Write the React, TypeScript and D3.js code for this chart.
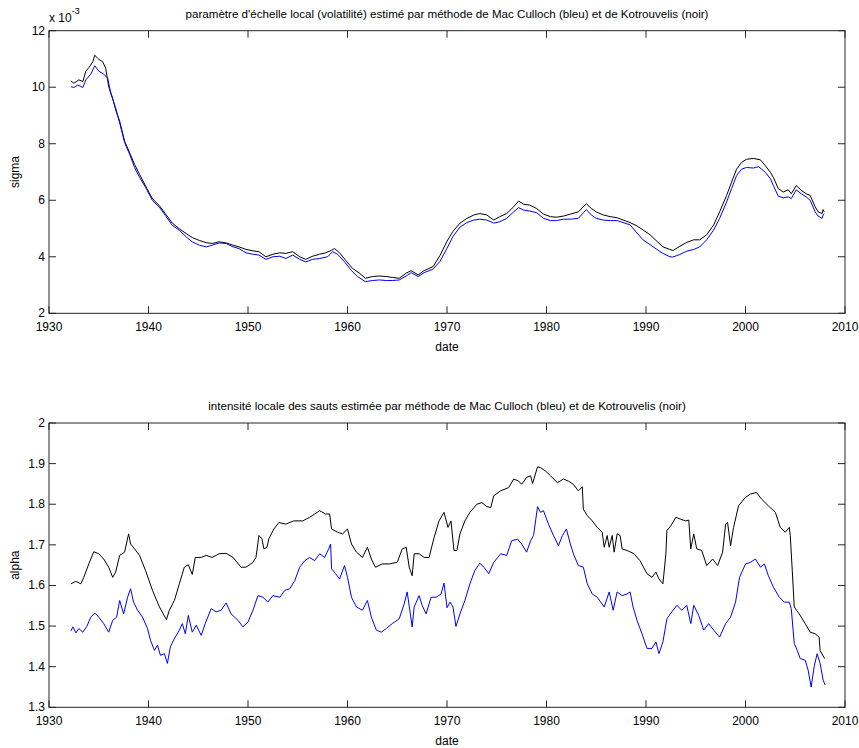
import React from "react";
import * as d3 from "d3";

// ---------- data ----------
const years = [1930, 1940, 1950, 1960, 1970, 1980, 1990, 2000, 2010];
const sigmaTicks = [2, 4, 6, 8, 10, 12];
const alphaTicks = [1.3, 1.4, 1.5, 1.6, 1.7, 1.8, 1.9, 2.0];

const topTitle =
  "paramètre d'échelle local (volatilité) estimé par méthode de Mac Culloch (bleu) et de Kotrouvelis (noir)";
const bottomTitle =
  "intensité locale des sauts estimée par méthode de Mac Culloch (bleu) et de Kotrouvelis (noir)";

// sigma (x 1e-3), Kotrouvelis (black)
const sigmaBlack: [number, number][] = [
  [1932.2, 10.22], [1932.5, 10.14], [1933.0, 10.26], [1933.4, 10.2], [1933.7, 10.57], [1934.0, 10.69],
  [1934.4, 10.9], [1934.6, 11.13], [1935.0, 10.99], [1935.4, 10.9], [1935.7, 10.67], [1936.0, 10.02],
  [1936.4, 9.61], [1936.7, 9.2], [1937.1, 8.8], [1937.6, 8.09], [1938.1, 7.68], [1938.6, 7.27],
  [1939.1, 6.92], [1939.7, 6.51], [1940.4, 6.05], [1941.1, 5.81], [1941.7, 5.52], [1942.4, 5.19],
  [1943.1, 4.99], [1943.8, 4.82], [1944.4, 4.68], [1945.1, 4.58], [1945.8, 4.5], [1946.4, 4.47],
  [1947.1, 4.53], [1947.8, 4.49], [1948.5, 4.41], [1949.1, 4.35], [1949.8, 4.26], [1950.5, 4.21],
  [1951.1, 4.18], [1951.8, 4.0], [1952.5, 4.09], [1953.2, 4.14], [1953.8, 4.12], [1954.5, 4.18],
  [1955.2, 4.0], [1955.8, 3.91], [1956.5, 4.02], [1957.2, 4.09], [1957.8, 4.14], [1958.4, 4.23],
  [1958.7, 4.29], [1959.2, 4.14], [1959.8, 3.88], [1960.5, 3.59], [1961.2, 3.42], [1961.8, 3.24],
  [1962.5, 3.3], [1963.2, 3.32], [1963.9, 3.3], [1964.5, 3.27], [1965.2, 3.24], [1965.9, 3.42],
  [1966.4, 3.51], [1967.1, 3.36], [1967.7, 3.51], [1968.6, 3.65], [1969.3, 4.05], [1970.0, 4.55],
  [1970.6, 4.9], [1971.3, 5.19], [1972.0, 5.36], [1972.7, 5.48], [1973.3, 5.53], [1974.0, 5.48],
  [1974.7, 5.3], [1975.3, 5.42], [1976.0, 5.53], [1976.7, 5.77], [1977.2, 5.97], [1977.7, 5.86],
  [1978.3, 5.83], [1979.0, 5.71], [1979.7, 5.51], [1980.4, 5.42], [1981.0, 5.4], [1981.7, 5.44],
  [1982.4, 5.51], [1983.2, 5.59], [1983.7, 5.77], [1984.0, 5.88], [1984.5, 5.71], [1985.0, 5.59],
  [1985.7, 5.48], [1986.4, 5.42], [1987.1, 5.38], [1987.7, 5.3], [1988.4, 5.21], [1989.1, 5.09],
  [1989.7, 4.95], [1990.4, 4.78], [1991.1, 4.55], [1991.7, 4.35], [1992.4, 4.26], [1992.7, 4.22],
  [1993.4, 4.37], [1994.1, 4.51], [1994.8, 4.6], [1995.4, 4.6], [1996.1, 4.78], [1996.8, 5.13],
  [1997.4, 5.59], [1998.1, 6.17], [1998.6, 6.64], [1999.1, 7.1], [1999.6, 7.34], [2000.1, 7.45],
  [2000.8, 7.48], [2001.5, 7.43], [2002.0, 7.22], [2002.5, 6.99], [2002.8, 6.81], [2003.3, 6.41],
  [2003.8, 6.29], [2004.3, 6.37], [2004.6, 6.23], [2005.1, 6.52], [2005.6, 6.35], [2006.1, 6.23],
  [2006.5, 6.17], [2007.0, 5.77], [2007.3, 5.59], [2007.7, 5.53], [2007.8, 5.67], [2007.9, 5.59],
];

// sigma (x 1e-3), Mac Culloch (blue)
const sigmaBlue: [number, number][] = [
  [1932.2, 10.02], [1932.5, 9.99], [1932.9, 10.08], [1933.4, 9.99], [1933.7, 10.26], [1934.2, 10.46],
  [1934.6, 10.76], [1935.0, 10.57], [1935.5, 10.46], [1935.9, 10.32], [1936.2, 9.79], [1936.7, 9.26],
  [1937.1, 8.74], [1937.6, 8.04], [1938.1, 7.63], [1938.6, 7.16], [1939.1, 6.81], [1939.7, 6.46],
  [1940.4, 5.99], [1941.1, 5.75], [1941.7, 5.46], [1942.4, 5.11], [1943.1, 4.94], [1943.8, 4.7],
  [1944.4, 4.53], [1945.1, 4.41], [1945.8, 4.35], [1946.4, 4.41], [1947.1, 4.49], [1947.8, 4.47],
  [1948.5, 4.35], [1949.1, 4.29], [1949.8, 4.14], [1950.5, 4.09], [1951.1, 4.06], [1951.8, 3.91],
  [1952.5, 4.0], [1953.2, 4.02], [1953.8, 3.94], [1954.5, 4.06], [1955.2, 3.91], [1955.8, 3.82],
  [1956.5, 3.91], [1957.2, 3.94], [1958.0, 4.0], [1958.5, 4.18], [1959.0, 4.09], [1959.7, 3.82],
  [1960.4, 3.51], [1961.0, 3.3], [1961.8, 3.12], [1962.5, 3.16], [1963.2, 3.18], [1963.9, 3.16],
  [1964.5, 3.16], [1965.2, 3.18], [1965.9, 3.32], [1966.4, 3.44], [1967.1, 3.3], [1967.7, 3.44],
  [1968.6, 3.56], [1969.3, 3.84], [1970.0, 4.3], [1970.6, 4.72], [1971.3, 5.05], [1972.0, 5.21],
  [1972.7, 5.3], [1973.3, 5.33], [1974.0, 5.3], [1974.7, 5.19], [1975.3, 5.24], [1976.0, 5.36],
  [1976.7, 5.59], [1977.2, 5.74], [1977.7, 5.65], [1978.3, 5.62], [1979.0, 5.56], [1979.7, 5.36],
  [1980.4, 5.28], [1981.0, 5.28], [1981.7, 5.33], [1982.4, 5.33], [1983.2, 5.36], [1983.7, 5.56],
  [1984.0, 5.67], [1984.5, 5.48], [1985.0, 5.36], [1985.7, 5.3], [1986.4, 5.28], [1987.1, 5.28],
  [1987.7, 5.21], [1988.4, 5.13], [1989.1, 4.84], [1989.7, 4.6], [1990.4, 4.43], [1991.1, 4.26],
  [1991.7, 4.12], [1992.4, 4.0], [1992.7, 3.99], [1993.4, 4.08], [1994.1, 4.2], [1994.8, 4.26],
  [1995.4, 4.35], [1996.1, 4.6], [1996.8, 4.95], [1997.4, 5.36], [1998.1, 5.94], [1998.6, 6.41],
  [1999.1, 6.87], [1999.6, 7.1], [2000.1, 7.16], [2000.8, 7.14], [2001.3, 7.19], [2002.0, 6.99],
  [2002.5, 6.76], [2002.8, 6.52], [2003.3, 6.14], [2003.8, 6.09], [2004.3, 6.12], [2004.6, 6.06],
  [2005.1, 6.37], [2005.6, 6.23], [2006.1, 6.12], [2006.5, 6.0], [2007.0, 5.59], [2007.3, 5.44],
  [2007.7, 5.36], [2007.8, 5.48], [2007.9, 5.53],
];

// alpha, Kotrouvelis (black)
const alphaBlack: [number, number][] = [
  [1932.2, 1.604], [1932.7, 1.61], [1933.2, 1.604], [1933.5, 1.62], [1934.0, 1.653], [1934.5, 1.683],
  [1935.0, 1.678], [1935.5, 1.665], [1936.0, 1.645], [1936.4, 1.62], [1936.7, 1.633], [1937.1, 1.674],
  [1937.6, 1.682], [1938.0, 1.727], [1938.2, 1.702], [1938.6, 1.69], [1939.1, 1.674], [1939.7, 1.637],
  [1940.4, 1.588], [1941.1, 1.547], [1941.8, 1.516], [1942.1, 1.539], [1942.6, 1.563], [1943.1, 1.604],
  [1943.6, 1.645], [1944.0, 1.651], [1944.4, 1.627], [1944.7, 1.669], [1945.3, 1.669], [1945.8, 1.674],
  [1946.4, 1.669], [1947.1, 1.678], [1947.8, 1.679], [1948.5, 1.669], [1949.3, 1.645], [1949.8, 1.645],
  [1950.5, 1.657], [1950.8, 1.669], [1951.1, 1.723], [1951.4, 1.715], [1951.6, 1.69], [1951.9, 1.694],
  [1952.1, 1.715], [1952.6, 1.739], [1953.1, 1.755], [1953.8, 1.751], [1954.6, 1.759], [1955.5, 1.759],
  [1956.2, 1.768], [1956.7, 1.776], [1957.2, 1.784], [1957.8, 1.776], [1958.2, 1.776], [1958.4, 1.739],
  [1959.0, 1.731], [1959.5, 1.727], [1960.0, 1.739], [1960.4, 1.702], [1960.9, 1.682], [1961.5, 1.669],
  [1962.0, 1.694], [1962.4, 1.665], [1962.8, 1.645], [1963.5, 1.653], [1964.2, 1.653], [1965.0, 1.657],
  [1965.5, 1.69], [1965.9, 1.694], [1966.2, 1.645], [1966.5, 1.624], [1966.7, 1.678], [1967.2, 1.678],
  [1967.7, 1.669], [1968.2, 1.669], [1968.7, 1.718], [1969.2, 1.759], [1969.7, 1.78], [1970.1, 1.743],
  [1970.4, 1.759], [1970.7, 1.686], [1971.0, 1.686], [1971.3, 1.727], [1971.8, 1.759], [1972.3, 1.78],
  [1973.0, 1.8], [1973.5, 1.804], [1974.0, 1.794], [1974.4, 1.792], [1974.7, 1.821], [1975.4, 1.833],
  [1976.2, 1.841], [1976.7, 1.862], [1977.2, 1.857], [1977.5, 1.849], [1978.0, 1.866], [1978.4, 1.87],
  [1978.6, 1.851], [1979.1, 1.892], [1979.4, 1.89], [1979.9, 1.882], [1980.4, 1.87], [1981.1, 1.853],
  [1981.7, 1.862], [1982.2, 1.857], [1982.7, 1.849], [1983.2, 1.833], [1983.6, 1.843], [1983.7, 1.788],
  [1984.1, 1.772], [1984.6, 1.759], [1985.1, 1.743], [1985.6, 1.731], [1985.8, 1.694], [1986.1, 1.723],
  [1986.3, 1.694], [1986.6, 1.723], [1986.8, 1.682], [1987.1, 1.727], [1987.4, 1.723], [1987.6, 1.69],
  [1988.1, 1.686], [1988.8, 1.678], [1989.4, 1.661], [1990.1, 1.629], [1990.6, 1.62], [1991.0, 1.633],
  [1991.3, 1.616], [1991.7, 1.604], [1992.0, 1.678], [1992.1, 1.735], [1992.5, 1.747], [1993.0, 1.768],
  [1993.5, 1.763], [1994.0, 1.759], [1994.3, 1.761], [1994.5, 1.69], [1994.8, 1.727], [1995.1, 1.69],
  [1995.6, 1.686], [1996.1, 1.649], [1996.7, 1.665], [1997.2, 1.649], [1997.7, 1.682], [1998.0, 1.751],
  [1998.2, 1.755], [1998.5, 1.698], [1998.8, 1.743], [1999.3, 1.796], [2000.0, 1.817], [2000.5, 1.825],
  [2001.1, 1.829], [2001.6, 1.813], [2002.3, 1.796], [2003.0, 1.78], [2003.5, 1.743], [2004.0, 1.731],
  [2004.4, 1.743], [2004.5, 1.723], [2004.7, 1.637], [2004.9, 1.547], [2005.4, 1.53], [2006.0, 1.506],
  [2006.5, 1.485], [2007.0, 1.481], [2007.4, 1.473], [2007.5, 1.44], [2007.9, 1.422], [2008.0, 1.42],
];

// alpha, Mac Culloch (blue)
const alphaBlue: [number, number][] = [
  [1932.2, 1.488], [1932.4, 1.498], [1932.7, 1.483], [1933.0, 1.494], [1933.4, 1.485], [1933.8, 1.499],
  [1934.2, 1.522], [1934.6, 1.532], [1935.0, 1.522], [1935.5, 1.506], [1936.0, 1.485], [1936.4, 1.514],
  [1936.8, 1.522], [1937.1, 1.563], [1937.5, 1.53], [1937.9, 1.571], [1938.2, 1.592], [1938.5, 1.559],
  [1938.9, 1.539], [1939.4, 1.522], [1939.9, 1.494], [1940.2, 1.465], [1940.6, 1.44], [1940.9, 1.453],
  [1941.2, 1.428], [1941.6, 1.432], [1941.9, 1.408], [1942.2, 1.449], [1942.6, 1.469], [1943.1, 1.49],
  [1943.4, 1.506], [1943.7, 1.481], [1944.0, 1.526], [1944.4, 1.485], [1944.8, 1.502], [1945.3, 1.477],
  [1945.7, 1.506], [1946.3, 1.543], [1946.8, 1.535], [1947.3, 1.539], [1947.8, 1.557], [1948.3, 1.53],
  [1949.0, 1.514], [1949.5, 1.498], [1950.0, 1.51], [1950.5, 1.539], [1951.0, 1.575], [1951.5, 1.571],
  [1952.0, 1.559], [1952.5, 1.575], [1953.2, 1.571], [1953.7, 1.588], [1954.2, 1.592], [1954.7, 1.612],
  [1955.2, 1.645], [1955.7, 1.661], [1956.2, 1.669], [1956.7, 1.661], [1957.2, 1.678], [1957.7, 1.669],
  [1958.1, 1.69], [1958.3, 1.702], [1958.4, 1.641], [1958.8, 1.629], [1959.2, 1.616], [1959.7, 1.649],
  [1960.0, 1.62], [1960.4, 1.571], [1960.9, 1.547], [1961.5, 1.539], [1962.0, 1.563], [1962.4, 1.522],
  [1962.9, 1.49], [1963.4, 1.485], [1963.9, 1.494], [1964.5, 1.506], [1965.2, 1.518], [1965.7, 1.555],
  [1966.0, 1.584], [1966.5, 1.498], [1966.7, 1.547], [1967.2, 1.575], [1967.5, 1.551], [1967.9, 1.53],
  [1968.4, 1.571], [1968.9, 1.571], [1969.4, 1.579], [1969.7, 1.606], [1970.0, 1.545], [1970.3, 1.559],
  [1970.6, 1.547], [1970.9, 1.499], [1971.3, 1.53], [1971.8, 1.563], [1972.3, 1.604], [1972.8, 1.637],
  [1973.3, 1.655], [1973.7, 1.645], [1974.2, 1.629], [1974.7, 1.657], [1975.4, 1.678], [1976.0, 1.674],
  [1976.5, 1.71], [1977.1, 1.714], [1977.5, 1.702], [1978.0, 1.682], [1978.4, 1.71], [1978.7, 1.723],
  [1979.1, 1.794], [1979.4, 1.78], [1979.7, 1.784], [1980.2, 1.751], [1980.7, 1.723], [1981.2, 1.698],
  [1981.6, 1.723], [1982.0, 1.739], [1982.4, 1.702], [1982.7, 1.678], [1983.2, 1.649], [1983.7, 1.645],
  [1984.1, 1.604], [1984.6, 1.579], [1985.1, 1.571], [1985.8, 1.547], [1986.3, 1.584], [1986.7, 1.539],
  [1987.1, 1.584], [1987.6, 1.575], [1988.1, 1.579], [1988.4, 1.584], [1988.7, 1.547], [1989.1, 1.514],
  [1989.6, 1.481], [1990.1, 1.445], [1990.6, 1.445], [1991.0, 1.461], [1991.3, 1.432], [1991.7, 1.461],
  [1992.1, 1.518], [1992.6, 1.535], [1993.1, 1.551], [1993.6, 1.539], [1994.1, 1.551], [1994.5, 1.506],
  [1994.8, 1.551], [1995.3, 1.526], [1995.8, 1.49], [1996.3, 1.506], [1996.8, 1.49], [1997.4, 1.473],
  [1998.0, 1.506], [1998.5, 1.522], [1999.0, 1.559], [1999.4, 1.62], [2000.0, 1.653], [2000.5, 1.657],
  [2001.0, 1.665], [2001.5, 1.645], [2001.9, 1.653], [2002.3, 1.624], [2002.8, 1.596], [2003.4, 1.571],
  [2003.9, 1.559], [2004.4, 1.559], [2004.6, 1.543], [2004.9, 1.457], [2005.2, 1.44], [2005.5, 1.42],
  [2006.0, 1.416], [2006.3, 1.391], [2006.6, 1.35], [2006.9, 1.4], [2007.2, 1.432], [2007.5, 1.408],
  [2007.8, 1.367], [2008.0, 1.355],
];

// ---------- layout ----------
const W = 859;
const H = 748;
const X0 = 49;
const X1 = 845;
const TOP = { y0: 30.7, y1: 313.3 };
const BOT = { y0: 423, y1: 707.3 };
const FONT = "'Liberation Sans', Arial, Helvetica, sans-serif";
const AXIS_COLOR = "#262626";
const TICK = 7;

type Panel = {
  yScale: d3.ScaleLinear<number, number>;
  yTicks: number[];
  fmt: (v: number) => string;
  series: { data: [number, number][]; color: string }[];
  title: string;
  ylabel: string;
  box: { y0: number; y1: number };
};

function Axes({ p, x }: { p: Panel; x: d3.ScaleLinear<number, number> }) {
  const { yScale: y, box } = p;
  const line = d3
    .line<[number, number]>()
    .x((d) => x(d[0]))
    .y((d) => y(d[1]))
    .curve(d3.curveLinear);
  const midX = (X0 + X1) / 2;
  const midY = (box.y0 + box.y1) / 2;
  return (
    <g>
      {p.series.map((s, i) => (
        <path key={i} d={line(s.data) || ""} fill="none" stroke={s.color} strokeWidth={1} strokeLinejoin="round" />
      ))}
      <rect x={X0} y={box.y0} width={X1 - X0} height={box.y1 - box.y0} fill="none" stroke={AXIS_COLOR} strokeWidth={1} />
      {years.map((yr) => (
        <g key={yr}>
          <line x1={x(yr)} x2={x(yr)} y1={box.y1} y2={box.y1 - TICK} stroke={AXIS_COLOR} />
          <line x1={x(yr)} x2={x(yr)} y1={box.y0} y2={box.y0 + TICK} stroke={AXIS_COLOR} />
          <text x={x(yr)} y={box.y1 + 18} textAnchor="middle" fontSize={12} fontFamily={FONT} fill="#000">
            {yr}
          </text>
        </g>
      ))}
      {p.yTicks.map((v) => (
        <g key={v}>
          <line x1={X0} x2={X0 + TICK} y1={y(v)} y2={y(v)} stroke={AXIS_COLOR} />
          <line x1={X1} x2={X1 - TICK} y1={y(v)} y2={y(v)} stroke={AXIS_COLOR} />
          <text x={X0 - 4} y={y(v) + 4} textAnchor="end" fontSize={12} fontFamily={FONT} fill="#000">
            {p.fmt(v)}
          </text>
        </g>
      ))}
      <text x={midX} y={box.y1 + 38} textAnchor="middle" fontSize={12} fontFamily={FONT} fill="#000">
        date
      </text>
      <text
        transform={`translate(19,${midY}) rotate(-90)`}
        textAnchor="middle"
        fontSize={12}
        fontFamily={FONT}
        fill="#000"
      >
        {p.ylabel}
      </text>
      <text x={midX} y={box.y0 - 13} textAnchor="middle" fontSize={11.6} fontFamily={FONT} fill="#000">
        {p.title}
      </text>
    </g>
  );
}

export default function App() {
  const x = d3.scaleLinear().domain([1930, 2010]).range([X0, X1]);
  const ySig = d3.scaleLinear().domain([2, 12]).range([TOP.y1, TOP.y0]);
  const yAlp = d3.scaleLinear().domain([1.3, 2.0]).range([BOT.y1, BOT.y0]);

  const top: Panel = {
    yScale: ySig,
    yTicks: sigmaTicks,
    fmt: (v) => String(v),
    series: [
      { data: sigmaBlack, color: "#000000" },
      { data: sigmaBlue, color: "#0000ff" },
    ],
    title: topTitle,
    ylabel: "sigma",
    box: TOP,
  };
  const bot: Panel = {
    yScale: yAlp,
    yTicks: alphaTicks,
    fmt: (v) => d3.format("~g")(+v.toFixed(1)),
    series: [
      { data: alphaBlack, color: "#000000" },
      { data: alphaBlue, color: "#0000ff" },
    ],
    title: bottomTitle,
    ylabel: "alpha",
    box: BOT,
  };

  return (
    <svg
      width={W}
      height={H}
      viewBox={`0 0 ${W} ${H}`}
      style={{ position: "absolute", left: 0, top: 0, background: "#fff" }}
    >
      <rect width={W} height={H} fill="#fff" />
      <Axes p={top} x={x} />
      <Axes p={bot} x={x} />
      <text x={X0} y={22} fontSize={12} fontFamily={FONT} fill="#000">
        x 10
        <tspan dy={-8} fontSize={9}>-3</tspan>
      </text>
    </svg>
  );
}
